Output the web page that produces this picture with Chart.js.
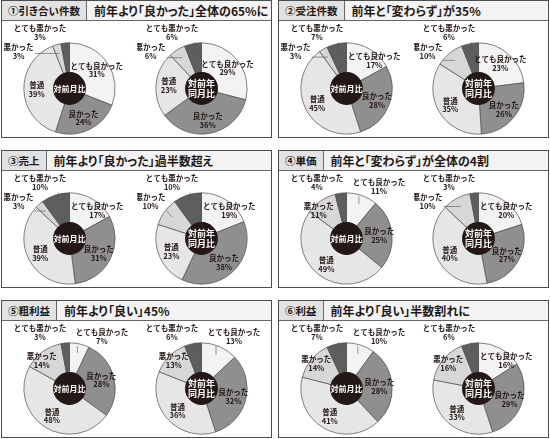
<!DOCTYPE html>
<html lang="ja">
<head>
<meta charset="utf-8">
<title>業況判断</title>
<script src="https://cdn.jsdelivr.net/npm/chart.js@4/dist/chart.umd.min.js"></script>
<style>
  html, body { margin: 0; padding: 0; background: #fff; }
  body { width: 550px; height: 439px; position: relative; overflow: hidden;
         font-family: "Noto Sans CJK JP", sans-serif; color: #231815; }
  .panel { position: absolute; width: 271px; height: 138px; box-sizing: border-box;
           border: 1.5px solid #4d4d4d; background: #fff; }
  .head { position: absolute; left: 0; top: 0; right: 0; height: 19px; display: flex;
          border-bottom: 1px solid #666; background: #f3f3f3; }
  .head .tag { font-size: 10.5px; font-weight: 700; padding: 0 6px; line-height: 19px;
               background: #e2e2e2; border-right: 1px solid #666; white-space: nowrap;
               font-feature-settings: "palt"; }
  .head .title { font-size: 12px; font-weight: 700; padding-left: 7px; line-height: 19px;
                 white-space: nowrap; font-feature-settings: "palt"; }
  canvas { position: absolute; top: 20px; }
</style>
</head>
<body>
<script>
"use strict";

const CATEGORIES = ["とても良かった", "良かった", "普通", "悪かった", "とても悪かった"];
const SLICE_COLORS = ["#f3f3f3", "#8f8f8f", "#e6e6e6", "#d7d7d7", "#5e5e5e"];
const INK = "#231815";
const FONT = "'Noto Sans CJK JP', 'Noto Sans', sans-serif";

// 対前月比 / 対前年同月比 (%)
const inquiryMoM   = [31, 24, 39, 3, 3];
const inquiryYoY   = [29, 36, 23, 6, 6];
const ordersMoM    = [17, 28, 45, 3, 7];
const ordersYoY    = [23, 26, 35, 10, 6];
const salesMoM     = [17, 31, 39, 3, 10];
const salesYoY     = [19, 38, 23, 10, 10];
const unitPriceMoM = [11, 25, 49, 11, 4];
const unitPriceYoY = [20, 27, 40, 10, 3];
const grossMoM     = [7, 28, 48, 14, 3];
const grossYoY     = [13, 32, 36, 13, 6];
const profitMoM    = [10, 28, 41, 14, 7];
const profitYoY    = [16, 29, 33, 16, 6];

const PANEL_TAGS = ["①引き合い件数", "②受注件数", "③売上", "④単価", "⑤粗利益", "⑥利益"];
const PANEL_TITLES = [
  "前年より「良かった」全体の65%に",
  "前年と「変わらず」が35%",
  "前年より「良かった」過半数超え",
  "前年と「変わらず」が全体の4割",
  "前年より「良い」45%",
  "前年より「良い」半数割れに",
];
const PANEL_DATA = [
  [inquiryMoM, inquiryYoY], [ordersMoM, ordersYoY], [salesMoM, salesYoY],
  [unitPriceMoM, unitPriceYoY], [grossMoM, grossYoY], [profitMoM, profitYoY],
];
const CENTER_MOM = ["対前月比"];
const CENTER_YOY = ["対前年", "同月比"];

// layout
const PANEL_LEFT = [1, 278];
const PANEL_TOP = [0, 150, 300];
const CANVAS_W = 134, CANVAS_H = 116;
const CANVAS_LEFT = [0, 135];
const PIE_CX = [67.5, 64.5];
const PIE_CY = 67.5;
const PIE_R = 46;

const clamp = (v, a, b) => Math.max(a, Math.min(b, v));

const sliceLabels = {
  id: "sliceLabels",
  afterDatasetsDraw(chart, args, opts) {
    const ctx = chart.ctx;
    const meta = chart.getDatasetMeta(0);
    const values = chart.data.datasets[0].data;
    const names = chart.data.labels;
    const first = meta.data[0];
    const cx = first.x, cy = first.y, R = first.outerRadius, r0 = first.innerRadius;

    ctx.save();
    // black hub with its caption
    ctx.fillStyle = INK;
    ctx.beginPath();
    ctx.arc(cx, cy, r0 + 0.4, 0, Math.PI * 2);
    ctx.fill();
    const hub = opts.center;
    const hubSize = hub.length > 1 ? 9 : 8;
    ctx.fillStyle = "#fff";
    ctx.textAlign = "center";
    ctx.textBaseline = "middle";
    ctx.font = `700 ${hubSize}px ${FONT}`;
    hub.forEach((s, k) => {
      ctx.fillText(s, cx, cy + (k - (hub.length - 1) / 2) * (hubSize + 0.5));
    });

    // which slices get an outside label
    const info = meta.data.map((arc, i) => {
      const v = values[i];
      const mid = (arc.startAngle + arc.endAngle) / 2;
      let clock = (mid + Math.PI / 2) * 180 / Math.PI;
      if (clock < 0) clock += 360;
      const outside = v <= 10 || (i === 0 && v <= 13);
      return { i, v, mid, clock, outside };
    });
    const leftOut = info.filter(d => d.outside && d.clock > 180).sort((a, b) => b.clock - a.clock);
    const rightOut = info.filter(d => d.outside && d.clock <= 180).sort((a, b) => a.clock - b.clock);
    leftOut.forEach((d, k) => { d.deg = -28 - 26 * k; d.dist = 1.38 * R; });
    rightOut.forEach((d, k) => { d.deg = 32 + 26 * k; d.dist = 1.34 * R; });

    ctx.font = `700 7.5px ${FONT}`;
    const LH = 8.5;
    info.forEach(d => {
      if (!d.outside) {
        if (d.v < 21) {
          d.deg = d.clock <= 180 ? clamp(d.clock, 45, 135) : clamp(d.clock, 225, 315);
          d.dist = 0.86 * R;
        } else {
          d.deg = d.clock;
          d.dist = 0.72 * R;
        }
      }
      const rad = d.deg * Math.PI / 180;
      const x = cx + Math.sin(rad) * d.dist;
      const y = cy - Math.cos(rad) * d.dist;
      const lines = [names[d.i], d.v + "%"];

      if (d.outside) {
        const w = Math.max(...lines.map(s => ctx.measureText(s).width));
        const x0 = x - w / 2 - 1, x1 = x + w / 2 + 1;
        const y0 = y - LH - 1, y1 = y + LH + 1;
        const sx = cx + Math.cos(d.mid) * 0.8 * R;
        const sy = cy + Math.sin(d.mid) * 0.8 * R;
        ctx.strokeStyle = "#555";
        ctx.lineWidth = 0.6;
        ctx.beginPath();
        ctx.moveTo(sx, sy);
        ctx.lineTo(clamp(sx, x0, x1), clamp(sy, y0, y1));
        ctx.stroke();
      }
      ctx.fillStyle = INK;
      ctx.fillText(lines[0], x, y - LH / 2);
      ctx.fillText(lines[1], x, y + LH / 2);
    });
    ctx.restore();
  },
};

function makePanel(p) {
  const panel = document.createElement("div");
  panel.className = "panel";
  panel.style.left = PANEL_LEFT[p % 2] + "px";
  panel.style.top = PANEL_TOP[Math.floor(p / 2)] + "px";
  panel.innerHTML = `<div class="head"><div class="tag">${PANEL_TAGS[p]}</div>` +
    `<div class="title">${PANEL_TITLES[p]}</div></div>`;
  document.body.appendChild(panel);

  PANEL_DATA[p].forEach((values, side) => {
    const canvas = document.createElement("canvas");
    canvas.width = CANVAS_W;
    canvas.height = CANVAS_H;
    canvas.style.left = CANVAS_LEFT[side] + "px";
    panel.appendChild(canvas);
    const cx = PIE_CX[side];
    new Chart(canvas, {
      type: "doughnut",
      data: {
        labels: CATEGORIES,
        datasets: [{
          data: values,
          backgroundColor: SLICE_COLORS,
          borderColor: "#4d4d4d",
          borderWidth: 0.7,
        }],
      },
      options: {
        responsive: false,
        animation: false,
        cutout: "35%",
        layout: {
          padding: {
            left: cx - PIE_R, right: CANVAS_W - cx - PIE_R,
            top: PIE_CY - PIE_R, bottom: CANVAS_H - PIE_CY - PIE_R,
          },
        },
        plugins: {
          legend: { display: false },
          tooltip: { enabled: false },
          sliceLabels: { center: side === 0 ? CENTER_MOM : CENTER_YOY },
        },
      },
      plugins: [sliceLabels],
    });
  });
}

for (let p = 0; p < PANEL_TAGS.length; p++) makePanel(p);
</script>
</body>
</html>
